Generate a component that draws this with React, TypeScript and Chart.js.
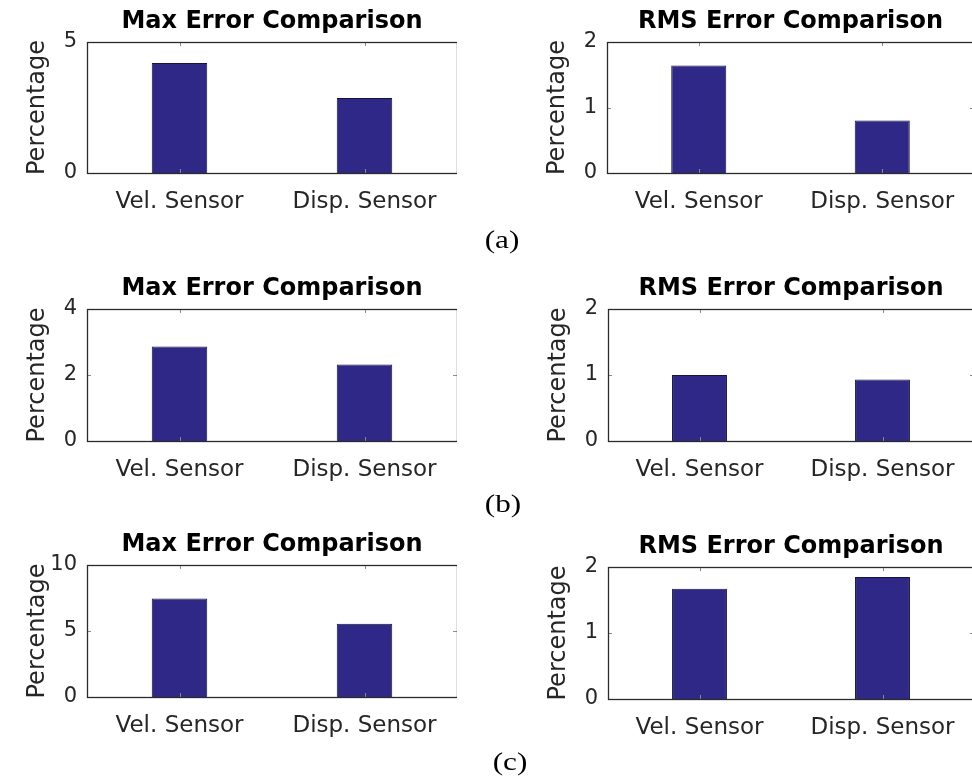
import React, { useEffect, useRef } from 'react';
import { Chart, registerables } from 'chart.js';

Chart.register(...registerables);

// ---- data ----
const categories = ['Vel. Sensor', 'Disp. Sensor'];
const maxErrorA = [4.2, 2.86];
const rmsErrorA = [1.64, 0.8];
const maxErrorB = [2.86, 2.32];
const rmsErrorB = [1.0, 0.93];
const maxErrorC = [7.47, 5.54];
const rmsErrorC = [1.67, 1.85];

const ticksMaxA = [0, 5];
const ticksRmsA = [0, 1, 2];
const ticksMaxB = [0, 2, 4];
const ticksRmsB = [0, 1, 2];
const ticksMaxC = [0, 5, 10];
const ticksRmsC = [0, 1, 2];

const maxTitle = 'Max Error Comparison';
const rmsTitle = 'RMS Error Comparison';
const yAxisLabel = 'Percentage';
const panelLabels = ['(a)', '(b)', '(c)'];

// ---- styling / layout ----
const BAR_COLOR = '#302886';
const BOX_COLOR = '#2b2b2b';
const TEXT_COLOR = '#262626';
const Y_AXIS_W = 87;
const TITLE_H = 42;
const X_AXIS_H = 60;

type Box = { left: number; top: number; right: number; bottom: number };

const boxPlugin = {
  id: 'matlabBox',
  afterDraw(chart: any) {
    const { ctx, chartArea } = chart;
    const { left, top, right, bottom } = chartArea;
    const xs = chart.scales.x;
    const ys = chart.scales.y;
    ctx.save();
    // inward tick marks
    ctx.strokeStyle = '#8a8a8a';
    ctx.lineWidth = 1;
    ctx.beginPath();
    xs.ticks.forEach((_: any, i: number) => {
      const px = Math.round(xs.getPixelForTick(i)) + 0.5;
      ctx.moveTo(px, top);
      ctx.lineTo(px, top + 4);
      ctx.moveTo(px, bottom);
      ctx.lineTo(px, bottom - 4);
    });
    ys.ticks.forEach((_: any, i: number) => {
      const py = Math.round(ys.getPixelForTick(i)) + 0.5;
      ctx.moveTo(left, py);
      ctx.lineTo(left + 4, py);
      ctx.moveTo(right, py);
      ctx.lineTo(right - 4, py);
    });
    ctx.stroke();
    // box
    ctx.strokeStyle = BOX_COLOR;
    ctx.lineWidth = 1.3;
    ctx.strokeRect(Math.round(left) + 0.5, Math.round(top) + 0.5, Math.round(right - left), Math.round(bottom - top));
    ctx.restore();
  },
};

function Panel({ title, values, ticks, box }: { title: string; values: number[]; ticks: number[]; box: Box }) {
  const ref = useRef<HTMLCanvasElement | null>(null);
  const cLeft = box.left - Y_AXIS_W;
  const cTop = box.top - TITLE_H;
  const cWidth = box.right - cLeft;
  const cHeight = box.bottom - box.top + TITLE_H + X_AXIS_H;

  useEffect(() => {
    if (!ref.current) return;
    const chart = new Chart(ref.current, {
      type: 'bar',
      data: {
        labels: categories,
        datasets: [
          {
            data: values,
            backgroundColor: BAR_COLOR,
            borderColor: '#15123f',
            borderWidth: 1,
            barPercentage: 0.3,
            categoryPercentage: 1,
          },
        ],
      },
      options: {
        animation: false,
        responsive: false,
        devicePixelRatio: 1,
        layout: { padding: 0 },
        plugins: {
          legend: { display: false },
          tooltip: { enabled: false },
          title: {
            display: true,
            fullSize: false,
            text: title,
            color: '#000',
            font: { family: 'DejaVu Sans', size: 24, weight: 'bold', lineHeight: 1.2 },
            padding: { top: 7.3, bottom: TITLE_H - 7.3 - 28.8 },
          },
        },
        scales: {
          x: {
            type: 'category',
            offset: true,
            grid: { display: false, drawTicks: false },
            border: { display: false },
            ticks: {
              color: TEXT_COLOR,
              padding: 15,
              maxRotation: 0,
              autoSkip: false,
              font: { family: 'DejaVu Sans', size: 23, lineHeight: 1.2 },
            },
            afterFit(scale: any) {
              scale.height = X_AXIS_H;
            },
          },
          y: {
            type: 'linear',
            min: ticks[0],
            max: ticks[ticks.length - 1],
            grid: { display: false, drawTicks: false },
            border: { display: false },
            ticks: {
              color: TEXT_COLOR,
              padding: 10,
              font: { family: 'DejaVu Sans', size: 21 },
            },
            afterBuildTicks(scale: any) {
              scale.ticks = ticks.map((v) => ({ value: v }));
            },
            title: {
              display: true,
              text: yAxisLabel,
              color: TEXT_COLOR,
              font: { family: 'DejaVu Sans', size: 24, lineHeight: 1.2 },
              padding: { top: 23, bottom: 0 },
            },
            afterFit(scale: any) {
              scale.width = Y_AXIS_W;
            },
          },
        },
      },
      plugins: [boxPlugin],
    } as any);
    return () => chart.destroy();
  }, [title, values, ticks, box.left, box.top, box.right, box.bottom]);

  return (
    <canvas
      ref={ref}
      width={cWidth}
      height={cHeight}
      style={{ position: 'absolute', left: cLeft, top: cTop, width: cWidth, height: cHeight }}
    />
  );
}

function PanelLabel({ text, x, y }: { text: string; x: number; y: number }) {
  return (
    <div
      style={{
        position: 'absolute',
        left: x - 40,
        top: y - 17,
        width: 80,
        height: 34,
        lineHeight: '34px',
        textAlign: 'center',
        fontFamily: '"Liberation Serif", "Times New Roman", serif',
        fontSize: 26,
        color: '#000',
        transform: 'scaleX(1.2)',
      }}
    >
      {text}
    </div>
  );
}

export default function App() {
  return (
    <div
      style={{
        position: 'absolute',
        left: 0,
        top: 0,
        width: 972,
        height: 782,
        overflow: 'hidden',
        background: '#fff',
      }}
    >
      <Panel title={maxTitle} values={maxErrorA} ticks={ticksMaxA} box={{ left: 87, top: 42, right: 457, bottom: 173 }} />
      <Panel title={rmsTitle} values={rmsErrorA} ticks={ticksRmsA} box={{ left: 607, top: 42, right: 974, bottom: 173 }} />
      <Panel title={maxTitle} values={maxErrorB} ticks={ticksMaxB} box={{ left: 87, top: 309, right: 457, bottom: 441 }} />
      <Panel title={rmsTitle} values={rmsErrorB} ticks={ticksRmsB} box={{ left: 608, top: 309, right: 974, bottom: 441 }} />
      <Panel title={maxTitle} values={maxErrorC} ticks={ticksMaxC} box={{ left: 87, top: 565, right: 457, bottom: 697 }} />
      <Panel title={rmsTitle} values={rmsErrorC} ticks={ticksRmsC} box={{ left: 608, top: 567, right: 974, bottom: 699 }} />
      <PanelLabel text={panelLabels[0]} x={502} y={240} />
      <PanelLabel text={panelLabels[1]} x={503} y={504} />
      <PanelLabel text={panelLabels[2]} x={510} y={762} />
    </div>
  );
}
